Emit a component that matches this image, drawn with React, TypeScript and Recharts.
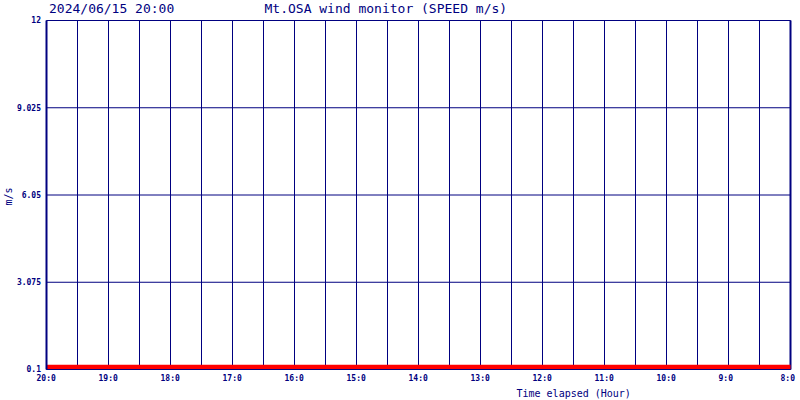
import React from "react";
import { LineChart, Line, XAxis, YAxis, CartesianGrid, ReferenceLine } from "recharts";

const NAVY = "#000080";
const RED = "#ff0000";

const titleDate = "2024/06/15 20:00";
const titleMain = "Mt.OSA wind monitor (SPEED m/s)";
const xTitle = "Time elapsed (Hour)";
const yTitle = "m/s";

// hour labels shown at each full hour (elapsed 0..12)
const hourLabels = ["20:0", "19:0", "18:0", "17:0", "16:0", "15:0", "14:0", "13:0", "12:0", "11:0", "10:0", "9:0", "8:0"];
// grid positions every half hour (elapsed hours)
const gridHours = [0, 0.5, 1, 1.5, 2, 2.5, 3, 3.5, 4, 4.5, 5, 5.5, 6, 6.5, 7, 7.5, 8, 8.5, 9, 9.5, 10, 10.5, 11, 11.5, 12];
// samples (elapsed hours) and wind speed (m/s)
const elapsed = [0, 0.5, 1, 1.5, 2, 2.5, 3, 3.5, 4, 4.5, 5, 5.5, 6, 6.5, 7, 7.5, 8, 8.5, 9, 9.5, 10, 10.5, 11, 11.5, 12];
const speeds = [0.18, 0.18, 0.18, 0.18, 0.18, 0.18, 0.18, 0.18, 0.18, 0.18, 0.18, 0.18, 0.18, 0.18, 0.18, 0.18, 0.18, 0.18, 0.18, 0.18, 0.18, 0.18, 0.18, 0.18, 0.18];
const yTicks = [0.1, 3.075, 6.05, 9.025, 12];
const yTickLabels = ["0.1", "3.075", "6.05", "9.025", "12"];

const data = elapsed.map((t, i) => ({ t, speed: speeds[i] }));

const MONO = "'DejaVu Sans Mono', 'Liberation Mono', monospace";

const XTick = (props: any) => {
  const { x, y, payload } = props;
  const v = payload.value as number;
  const idx = hourLabels.length - 1 >= v && Number.isInteger(v) ? v : -1;
  if (idx < 0) return <g />;
  return (
    <text x={x - 10} y={y + 11.5} fill={NAVY} fontFamily={MONO} fontSize={8} fontWeight="bold" textAnchor="start">
      {hourLabels[idx]}
    </text>
  );
};

const YTick = (props: any) => {
  const { x, y, payload } = props;
  const i = yTicks.indexOf(payload.value);
  return (
    <text x={x - 5.5} y={y + 2.9} fill={NAVY} fontFamily={MONO} fontSize={8} fontWeight="bold" textAnchor="end">
      {i >= 0 ? yTickLabels[i] : payload.value}
    </text>
  );
};

export default function App() {
  return (
    <div style={{ position: "absolute", left: 0, top: 0, width: 800, height: 400, background: "#ffffff" }}>
      <LineChart width={800} height={400} data={data} margin={{ top: 20.5, right: 9.5, bottom: 0, left: 0 }}>
        <CartesianGrid stroke={NAVY} strokeWidth={1} />
        <XAxis
          dataKey="t"
          type="number"
          domain={[0, 12]}
          ticks={gridHours}
          interval={0}
          height={30.5}
          tickSize={0}
          tickMargin={0}
          tickLine={false}
          axisLine={{ stroke: NAVY, strokeWidth: 1 }}
          tick={<XTick />}
        />
        <YAxis
          type="number"
          domain={[0.1, 12]}
          ticks={yTicks}
          interval={0}
          width={46.5}
          tickSize={0}
          tickMargin={0}
          tickLine={false}
          allowDataOverflow
          axisLine={{ stroke: NAVY, strokeWidth: 2 }}
          tick={<YTick />}
        />
        <ReferenceLine x={12} stroke={NAVY} strokeWidth={2} />
        <Line type="linear" dataKey="speed" stroke={RED} strokeWidth={5} dot={false} isAnimationActive={false} />
      </LineChart>
      <svg width={800} height={400} style={{ position: "absolute", left: 0, top: 0, pointerEvents: "none" }}>
        <text x={49} y={12.7} fill={NAVY} fontFamily={MONO} fontSize={13}>
          {titleDate}
        </text>
        <text x={264.5} y={12.7} fill={NAVY} fontFamily={MONO} fontSize={13}>
          {titleMain}
        </text>
        <text x={516.5} y={397.3} fill={NAVY} fontFamily={MONO} fontSize={10}>
          {xTitle}
        </text>
        <text
          x={11.5}
          y={196.5}
          fill={NAVY}
          fontFamily={MONO}
          fontSize={10}
          textAnchor="middle"
          transform="rotate(-90, 11.5, 196.5)"
        >
          {yTitle}
        </text>
      </svg>
    </div>
  );
}
